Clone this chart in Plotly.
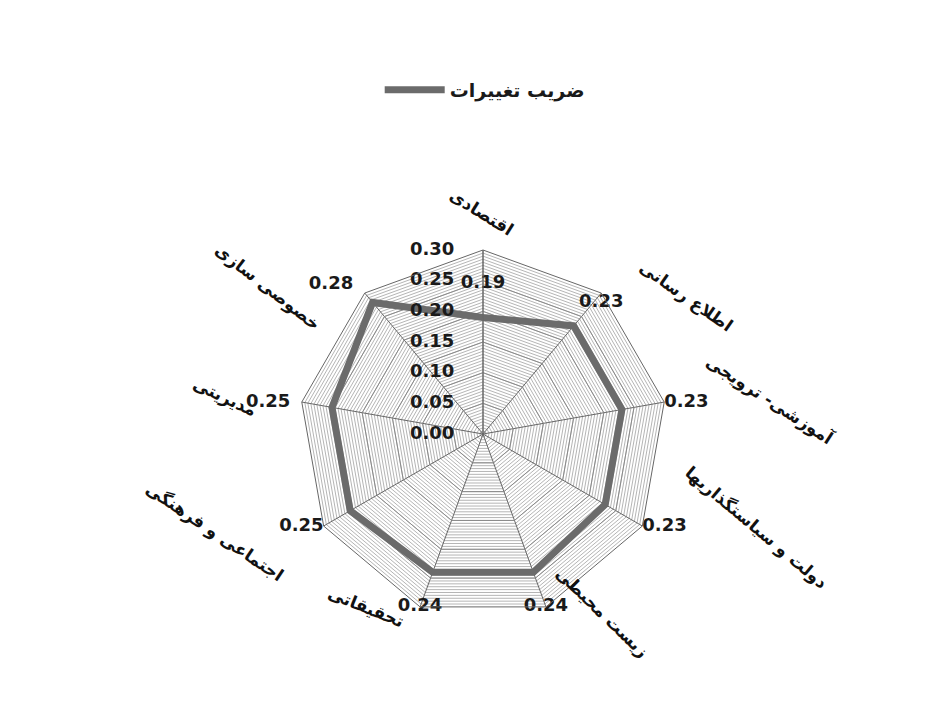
import plotly.graph_objects as go

categories = ["اقتصادی", "اطلاع رسانی", "آموزشی- ترویجی", "دولت و سیاستگذاریها",
              "زیست محیطی", "تحقیقاتی", "اجتماعی و فرهنگی", "مدیریتی", "خصوصی سازی"]
values = [0.19, 0.23, 0.23, 0.23, 0.24, 0.24, 0.25, 0.25, 0.28]
series_name = "ضریب تغییرات"
major_ticks = [0.00, 0.05, 0.10, 0.15, 0.20, 0.25, 0.30]
minor_ticks = [i / 200 for i in range(61)]

FONT = "DejaVu Sans"
W, H = 943, 704
CX, CY, R = 483, 434, 184  # polar centre / radius in pixels (layout)

# value label placement (layout): radius and text position per label
val_label_r = [0.245, 0.30, 0.30, 0.30, 0.30, 0.30, 0.30, 0.30, 0.30]
val_label_pos = ["middle center", "bottom center", "middle right", "middle right",
                 "middle center", "middle center", "middle left", "middle left", "top left"]
val_label_pad = [0, 0, 0, 0, 0, 0, 0, 2, 2]

# category label placement in pixels (layout) and rotation
cat_label_xy = [(481, 212), (686, 296), (770, 400), (756, 527), (602, 612),
                (366, 607), (215, 532), (225, 397), (268, 287)]
cat_label_angle = [32, 35, 33, 40, 44, 22, 34, 25, 38]

fig = go.Figure()

# invisible trace on polar (minor grid layer)
fig.add_trace(go.Scatterpolar(
    r=[0] * len(categories), theta=categories, mode="lines",
    line=dict(color="rgba(0,0,0,0)"), subplot="polar", showlegend=False, hoverinfo="skip",
))

fig.add_trace(go.Scatterpolar(
    r=values + values[:1], theta=categories + categories[:1],
    mode="lines", name=f"<b>{series_name}</b>",
    line=dict(color="#6b6b6b", width=7),
    subplot="polar2", showlegend=True, hoverinfo="skip",
))

# radial tick labels
fig.add_trace(go.Scatterpolar(
    r=[max(t, 1e-6) for t in major_ticks], theta=[categories[0]] * len(major_ticks),
    mode="text", text=[f"<b>{t:.2f}</b>" + "\u00a0" * 5 for t in major_ticks],
    textposition="middle left",
    textfont=dict(family=FONT, size=18, color="#1a1a1a"),
    subplot="polar2", showlegend=False, cliponaxis=False, hoverinfo="skip",
))

# value labels
fig.add_trace(go.Scatterpolar(
    r=val_label_r, theta=categories,
    mode="text",
    text=[f"<b>{v:.2f}</b>" + "\u00a0" * p for v, p in zip(values, val_label_pad)],
    textposition=val_label_pos,
    textfont=dict(family=FONT, size=18, color="#1a1a1a"),
    subplot="polar2", showlegend=False, cliponaxis=False, hoverinfo="skip",
))

annotations = []
for name, (px, py), ang in zip(categories, cat_label_xy, cat_label_angle):
    annotations.append(dict(
        x=px / W, y=1 - py / H, xref="paper", yref="paper",
        text=f"<b>{name}</b>", showarrow=False, textangle=ang,
        font=dict(family=FONT, size=17, color="#111"),
        xanchor="center", yanchor="middle",
    ))

dom = dict(x=[(CX - R) / W, (CX + R) / W], y=[(H - CY - R) / H, (H - CY + R) / H])

fig.update_layout(
    width=W, height=H,
    margin=dict(l=0, r=0, t=0, b=0),
    paper_bgcolor="white",
    font=dict(family=FONT, color="#222"),
    showlegend=True,
    annotations=annotations,
    legend=dict(x=0.514, y=1 - 90 / H, xanchor="center", yanchor="middle",
                font=dict(family=FONT, size=19, color="#1a1a1a"),
                itemwidth=60),
    polar=dict(
        domain=dom, gridshape="linear", bgcolor="white",
        radialaxis=dict(range=[0, 0.30], tickvals=minor_ticks, showticklabels=False,
                        gridcolor="#b5b5b5", gridwidth=1, showline=False, ticks=""),
        angularaxis=dict(direction="clockwise", rotation=90, showticklabels=False,
                         showgrid=False, showline=False, ticks="",
                         categoryarray=categories, categoryorder="array"),
    ),
    polar2=dict(
        domain=dom, gridshape="linear", bgcolor="rgba(0,0,0,0)",
        radialaxis=dict(range=[0, 0.30], tickvals=major_ticks, showticklabels=False,
                        angle=90, gridcolor="#8a8a8a", gridwidth=1,
                        showline=True, linecolor="#666", ticks=""),
        angularaxis=dict(direction="clockwise", rotation=90, showticklabels=False,
                         categoryarray=categories, categoryorder="array",
                         gridcolor="#666", linecolor="#666", linewidth=1, ticks=""),
    ),
)

fig.write_html("out.html")
